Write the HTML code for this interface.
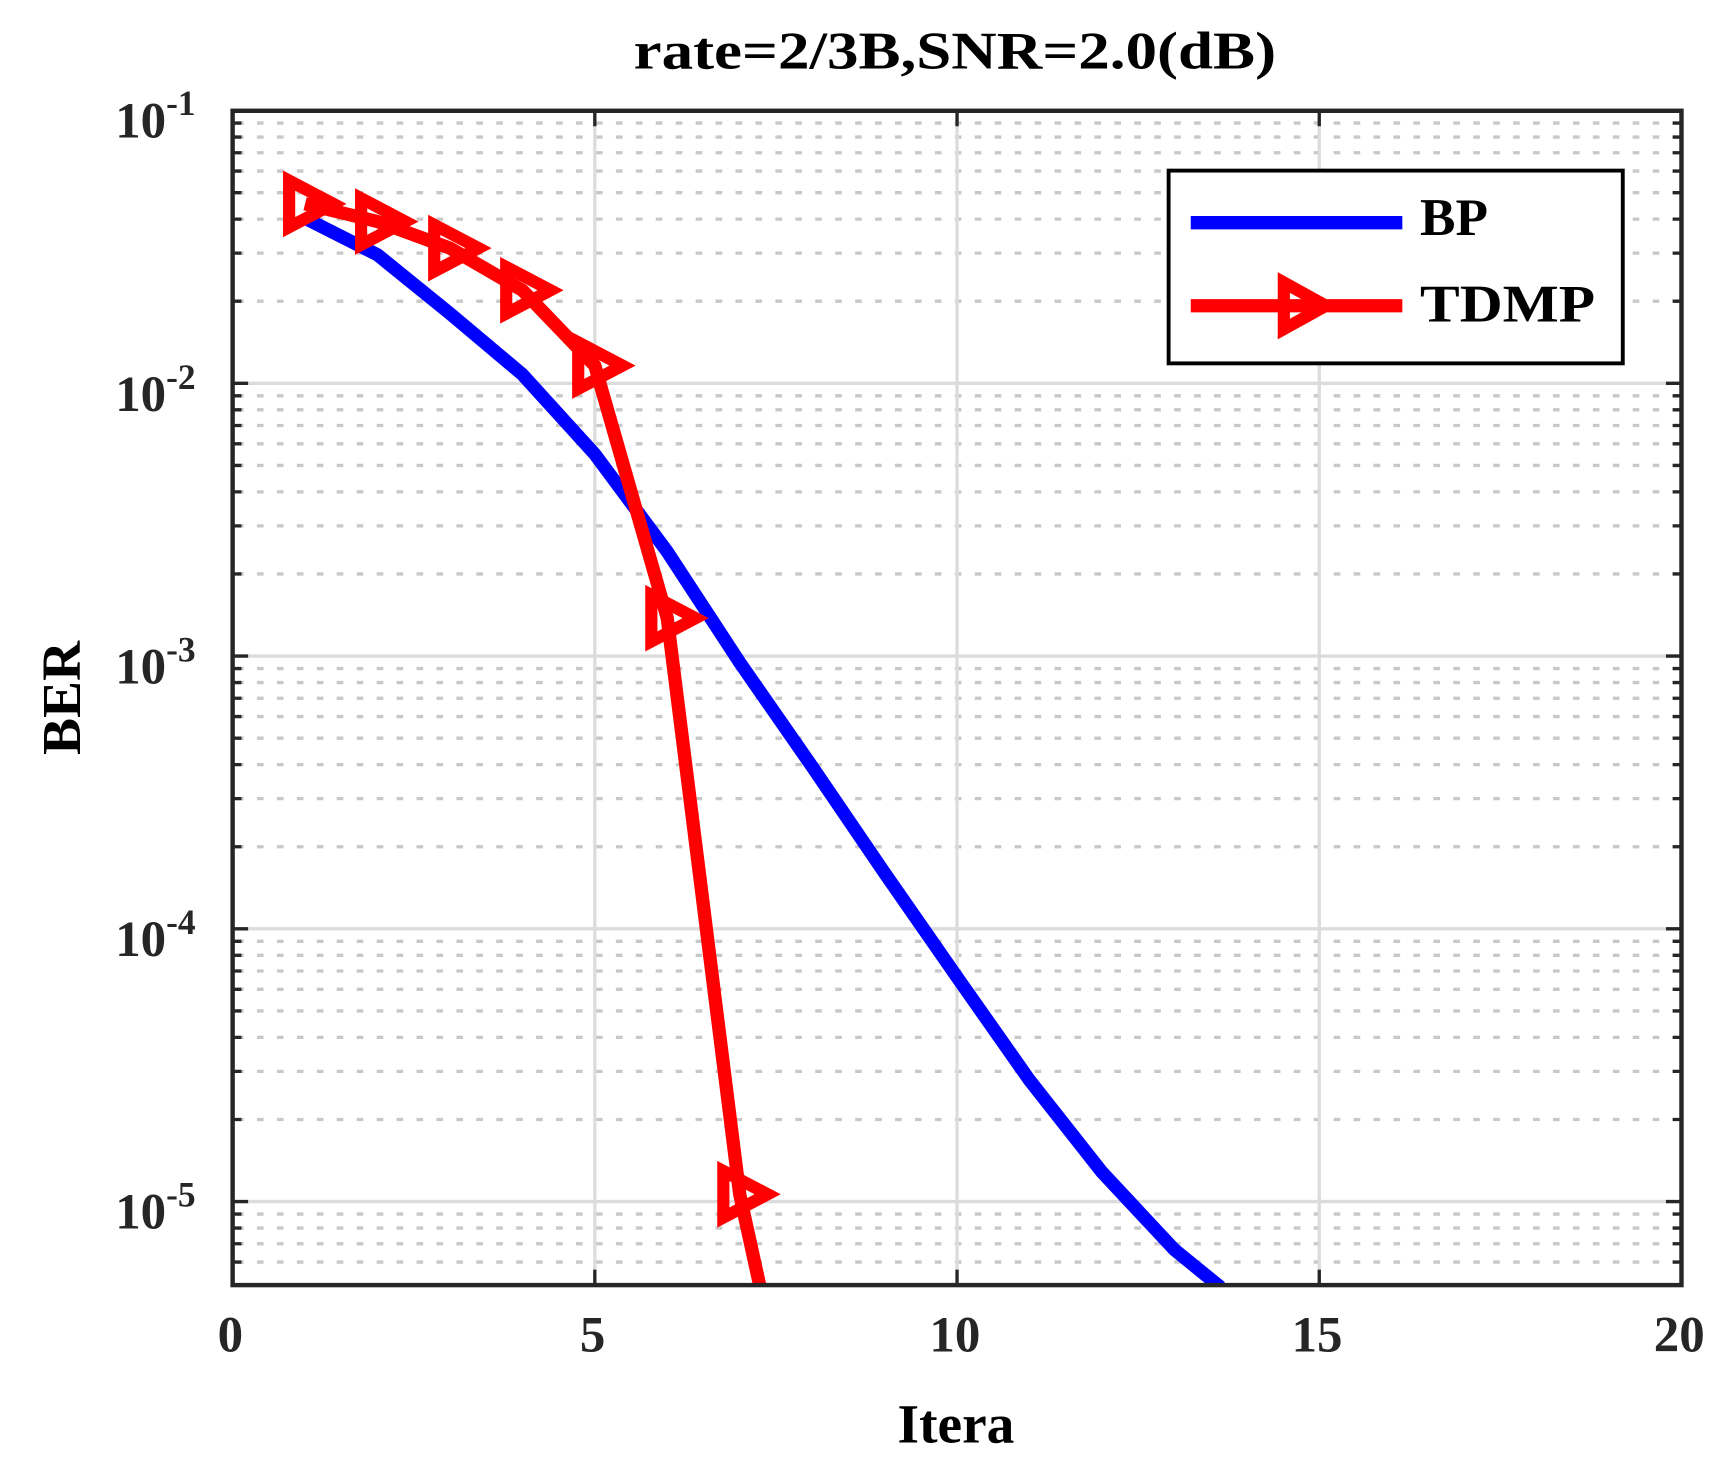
<!DOCTYPE html>
<html><head><meta charset="utf-8"><style>html,body{margin:0;padding:0;background:#fff}svg{display:block}</style></head>
<body>
<svg width="1728" height="1469" viewBox="0 0 1560 1326" preserveAspectRatio="none" xmlns="http://www.w3.org/2000/svg" font-family="'Liberation Serif',serif" font-weight="bold">
<rect width="1560" height="1326" fill="#fff"/>
<path stroke="#c8c8c8" stroke-width="3" stroke-dasharray="6 12" fill="none" d="
M214 271.9H1514 M214 228.5H1514 M214 197.8H1514 M214 173.9H1514 M214 154.4H1514 M214 137.9H1514 M214 123.7H1514 M214 111.1H1514
M214 518.1H1514 M214 474.7H1514 M214 444H1514 M214 420.1H1514 M214 400.6H1514 M214 384.1H1514 M214 369.9H1514 M214 357.3H1514
M214 764.3H1514 M214 720.9H1514 M214 690.2H1514 M214 666.3H1514 M214 646.8H1514 M214 630.3H1514 M214 616.1H1514 M214 603.5H1514
M214 1010.5H1514 M214 967.1H1514 M214 936.4H1514 M214 912.5H1514 M214 893H1514 M214 876.5H1514 M214 862.3H1514 M214 849.7H1514
M214 1139.2H1514 M214 1122.7H1514 M214 1108.5H1514 M214 1095.9H1514"/>
<path stroke="#dcdcdc" stroke-width="3" fill="none" d="M537 100V1160 M864 100V1160 M1191 100V1160 M210 346H1518 M210 592.2H1518 M210 838.4H1518 M210 1084.6H1518"/>
<path stroke="#262626" stroke-width="3" fill="none" d="
M210 346h14 M210 592.2h14 M210 838.4h14 M210 1084.6h14 M1518 346h-14 M1518 592.2h-14 M1518 838.4h-14 M1518 1084.6h-14
M537 1160v-14 M864 1160v-14 M1191 1160v-14 M537 100v14 M864 100v14 M1191 100v14
M210 271.9h8 M210 228.5h8 M210 197.8h8 M210 173.9h8 M210 154.4h8 M210 137.9h8 M210 123.7h8 M210 111.1h8
M210 518.1h8 M210 474.7h8 M210 444h8 M210 420.1h8 M210 400.6h8 M210 384.1h8 M210 369.9h8 M210 357.3h8
M210 764.3h8 M210 720.9h8 M210 690.2h8 M210 666.3h8 M210 646.8h8 M210 630.3h8 M210 616.1h8 M210 603.5h8
M210 1010.5h8 M210 967.1h8 M210 936.4h8 M210 912.5h8 M210 893h8 M210 876.5h8 M210 862.3h8 M210 849.7h8
M210 1139.2h8 M210 1122.7h8 M210 1108.5h8 M210 1095.9h8
M1518 271.9h-8 M1518 228.5h-8 M1518 197.8h-8 M1518 173.9h-8 M1518 154.4h-8 M1518 137.9h-8 M1518 123.7h-8 M1518 111.1h-8
M1518 518.1h-8 M1518 474.7h-8 M1518 444h-8 M1518 420.1h-8 M1518 400.6h-8 M1518 384.1h-8 M1518 369.9h-8 M1518 357.3h-8
M1518 764.3h-8 M1518 720.9h-8 M1518 690.2h-8 M1518 666.3h-8 M1518 646.8h-8 M1518 630.3h-8 M1518 616.1h-8 M1518 603.5h-8
M1518 1010.5h-8 M1518 967.1h-8 M1518 936.4h-8 M1518 912.5h-8 M1518 893h-8 M1518 876.5h-8 M1518 862.3h-8 M1518 849.7h-8
M1518 1139.2h-8 M1518 1122.7h-8 M1518 1108.5h-8 M1518 1095.9h-8"/>
<defs><clipPath id="c"><rect x="210" y="100" width="1308" height="1060"/></clipPath></defs>
<g clip-path="url(#c)">
<polyline fill="none" stroke="#0000ff" stroke-width="12" stroke-linejoin="round" points="275.4,197 340.8,230 406.2,283 471.6,338 537,410 602.4,498 667.8,598 733.2,692 798.6,788 864,882 929.4,975 994.8,1058 1060.2,1128 1102,1162"/>
<polyline fill="none" stroke="#ff0000" stroke-width="12" stroke-linejoin="round" points="275.4,184 340.8,200 406.2,224 471.6,262 537,330 602.4,558 667.8,1078 688,1170"/>
<g fill="none" stroke="#ff0000" stroke-width="11" stroke-linejoin="miter">
<path d="M261 163V205L301 184Z"/>
<path d="M326 179V221L366 200Z"/>
<path d="M392 203V245L432 224Z"/>
<path d="M457 241V283L497 262Z"/>
<path d="M522 309V351L562 330Z"/>
<path d="M588 537V579L628 558Z"/>
<path d="M653 1057V1099L693 1078Z"/>
</g>
</g>
<rect x="210" y="100" width="1308" height="1060" fill="none" stroke="#262626" stroke-width="4"/>
<rect x="1055" y="154" width="410" height="174" fill="#fff" stroke="#000" stroke-width="3.5"/>
<line x1="1075" y1="201" x2="1266" y2="201" stroke="#0000ff" stroke-width="12"/>
<line x1="1075" y1="276" x2="1266" y2="276" stroke="#ff0000" stroke-width="12"/>
<path d="M1159 255V297L1197 276Z" fill="none" stroke="#ff0000" stroke-width="11"/>
<text x="1282" y="212" font-size="48" fill="#000">BP</text>
<text x="1282" y="290" font-size="48" fill="#000" textLength="158" lengthAdjust="spacingAndGlyphs">TDMP</text>
<text x="862" y="62" font-size="48" text-anchor="middle" fill="#000" textLength="580" lengthAdjust="spacingAndGlyphs">rate=2/3B,SNR=2.0(dB)</text>
<g fill="#262626" font-size="46" text-anchor="middle">
<text x="208" y="1220">0</text><text x="535" y="1220">5</text><text x="862" y="1220">10</text><text x="1189" y="1220">15</text><text x="1516" y="1220">20</text>
</g>
<g fill="#262626" font-size="46">
<text x="104" y="124">10<tspan dy="-20" font-size="32">-1</tspan></text>
<text x="104" y="371">10<tspan dy="-20" font-size="32">-2</tspan></text>
<text x="104" y="617">10<tspan dy="-20" font-size="32">-3</tspan></text>
<text x="104" y="863">10<tspan dy="-20" font-size="32">-4</tspan></text>
<text x="104" y="1109">10<tspan dy="-20" font-size="32">-5</tspan></text>
</g>
<text x="863" y="1302" font-size="50" text-anchor="middle" fill="#000">Itera</text>
<text transform="translate(72,630) rotate(-90)" font-size="50" text-anchor="middle" fill="#000">BER</text>
</svg>
</body></html>
